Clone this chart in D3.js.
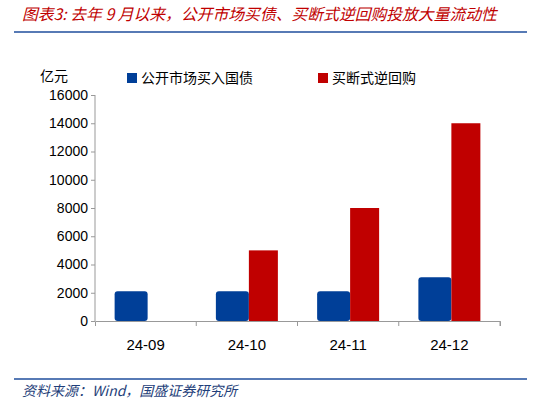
<!DOCTYPE html><html><head><meta charset="utf-8"><script src="https://cdn.jsdelivr.net/npm/d3@7"></script>
<style>body{margin:0;background:#fff}</style></head><body><svg width="533" height="404"></svg>
<script>
const categories=["24-09","24-10","24-11","24-12"];
const govBonds=[2100,2100,2100,3100];
const outrightRepo=[0,5000,8000,14000];
const yTicks=[0,2000,4000,6000,8000,10000,12000,14000,16000];
const svg=d3.select("svg");
const f="'Noto Sans CJK SC','Liberation Sans',sans-serif";
svg.append("text").attr("x",22).attr("y",20).attr("fill","#c00000").attr("font-family",f).attr("font-style","italic").attr("font-size",15.8).text("图表3:  去年 9 月以来，公开市场买债、买断式逆回购投放大量流动性");
svg.append("line").attr("x1",14).attr("x2",527).attr("y1",32).attr("y2",32).attr("stroke","#1f4e9c").attr("stroke-width",1.5);
svg.append("line").attr("x1",14).attr("x2",527).attr("y1",379).attr("y2",379).attr("stroke","#1f4e9c").attr("stroke-width",1.5);
svg.append("text").attr("x",22).attr("y",396).attr("fill","#1f3f7a").attr("font-family",f).attr("font-style","italic").attr("font-size",14).text("资料来源：Wind，国盛证券研究所");
const x=d3.scaleBand().domain(categories).range([95,500]);
const y=d3.scaleLinear().domain([0,16000]).range([321,95]);
const g=svg.append("g");
const ya=g.append("g").attr("transform","translate(95,0)").call(d3.axisLeft(y).tickValues(yTicks).tickSize(4).tickFormat(d3.format("d")));
ya.selectAll("text").attr("font-family","'Liberation Sans',sans-serif").attr("font-size",14).attr("fill","#000");
ya.selectAll("line,path").attr("stroke","#999");
ya.select("path").attr("d","M0,95V321");
svg.append("text").attr("x",40).attr("y",81).attr("font-family",f).attr("font-size",14).text("亿元");
const bw=31;
g.selectAll(".b").data(categories).join("rect").attr("fill","#003f98").attr("rx",3)
 .attr("x",d=>x(d)+x.bandwidth()/2-bw).attr("width",bw+2)
 .attr("y",(d,i)=>y(govBonds[i])).attr("height",(d,i)=>321-y(govBonds[i]));
g.selectAll(".r").data(categories).join("rect").attr("fill","#c00000")
 .attr("x",d=>x(d)+x.bandwidth()/2+2).attr("width",bw-2)
 .attr("y",(d,i)=>y(outrightRepo[i])).attr("height",(d,i)=>321-y(outrightRepo[i]));
const xa=g.append("g").attr("transform","translate(0,321)").call(d3.axisBottom(x).tickSize(5).tickSizeOuter(5).tickFormat(""));
xa.selectAll("path,line").attr("stroke","#999");
xa.selectAll(".tick line").attr("transform",`translate(${x.bandwidth()/2},0)`);
g.selectAll(".xl").data(categories).join("text").attr("x",d=>x(d)+x.bandwidth()/2).attr("y",350).attr("text-anchor","middle").attr("font-family","'Liberation Sans',sans-serif").attr("font-size",15).text(d=>d);
const leg=[["公开市场买入国债","#003f98",127],["买断式逆回购","#c00000",318]];
leg.forEach(([t,c,lx])=>{svg.append("rect").attr("x",lx).attr("y",73).attr("width",10).attr("height",10).attr("fill",c);
svg.append("text").attr("x",lx+14).attr("y",83).attr("font-family",f).attr("font-size",14).text(t);});
</script></body></html>
